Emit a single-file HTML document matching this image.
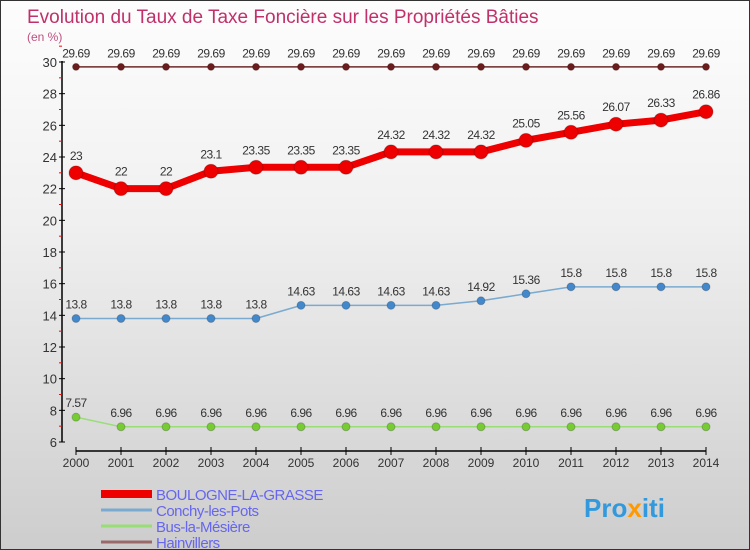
<!DOCTYPE html>
<html><head><meta charset="utf-8"><style>
body{margin:0;width:750px;height:550px;overflow:hidden;font-family:"Liberation Sans","DejaVu Sans",sans-serif}
#wrap{position:absolute;left:0;top:0;width:748px;height:548px;border:1px solid #333;background:linear-gradient(#fdfdfd,#f0f0f0 40%,#cdcdcd)}
</style></head><body>
<div id="wrap">
<svg id="chart" width="748" height="548" style="position:absolute;left:0;top:0"></svg>
</div>
<script>
const years=["2000","2001","2002","2003","2004","2005","2006","2007","2008","2009","2010","2011","2012","2013","2014"];
const boulogne=[23,22,22,23.1,23.35,23.35,23.35,24.32,24.32,24.32,25.05,25.56,26.07,26.33,26.86];
const conchy=[13.8,13.8,13.8,13.8,13.8,14.63,14.63,14.63,14.63,14.92,15.36,15.8,15.8,15.8,15.8];
const bus=[7.57,6.96,6.96,6.96,6.96,6.96,6.96,6.96,6.96,6.96,6.96,6.96,6.96,6.96,6.96];
const hain=[29.69,29.69,29.69,29.69,29.69,29.69,29.69,29.69,29.69,29.69,29.69,29.69,29.69,29.69,29.69];
const yTicks=[6,8,10,12,14,16,18,20,22,24,26,28,30];
const seriesNames=["BOULOGNE-LA-GRASSE","Conchy-les-Pots","Bus-la-Mésière","Hainvillers"];
const NS="http://www.w3.org/2000/svg";
const svg=document.getElementById('chart');
const X=i=>75+i*45;
const Y=v=>441-(v-6)*(380/24);
function el(t,a,p){const e=document.createElementNS(NS,t);for(const k in a)e.setAttribute(k,a[k]);(p||svg).appendChild(e);return e;}
function txt(s,a){const e=el('text',a);e.textContent=s;return e;}
const title=txt("Evolution du Taux de Taxe Foncière sur les Propriétés Bâties",{x:26,y:22,'font-size':19,fill:'#c0306a'});


const unit=txt("(en %)",{x:26,y:40,'font-size':12,fill:'#c05080'});


// axes
const ya=el('line',{x1:61,y1:60,x2:61,y2:441,stroke:'#000','stroke-width':1.5});


yTicks.forEach(v=>{
  el('line',{x1:58,y1:Y(v),x2:64,y2:Y(v),stroke:'#000'});
  el('line',{x1:58,y1:Y(v+1),x2:61,y2:Y(v+1),stroke:'#f00'});
  const t=txt(String(v),{x:56,y:Y(v)+5,'font-size':13,fill:'#333','text-anchor':'end'});
  
  
});
const xa=el('line',{x1:75,y1:450,x2:705,y2:450,stroke:'#000','stroke-width':1.5});


years.forEach((y,i)=>{
  el('line',{x1:X(i),y1:446,x2:X(i),y2:454,stroke:'#000'});
  const t=txt(y,{x:X(i),y:466,'font-size':12,fill:'#333','text-anchor':'middle'});
  
  
});
function series(data,color,lw,r,dotColor,name){
  const pts=data.map((v,i)=>X(i)+','+Y(v)).join(' ');
  const l=el('polyline',{points:pts,fill:'none',stroke:color,'stroke-width':lw,'stroke-linejoin':'round'});
  
  
  data.forEach((v,i)=>{
    const c=el('circle',{cx:X(i),cy:Y(v),r:r,fill:dotColor,stroke:'#0003'});
    
    
    const t=txt(String(v),{x:X(i),y:Y(v)-r-6,'font-size':12,fill:'#333','text-anchor':'middle','letter-spacing':'-0.5'});
    
    
  });
}
series(hain,'#6b2a2a',1.5,3.5,'#6b1c1c','hainvillers');
series(bus,'#99dd77',1.5,4,'#77cc33','bus-la-mesiere');
series(conchy,'#7aaad0',1.5,4,'#4488cc','conchy-les-pots');
series(boulogne,'#ee0000',7,7,'#ee0000','boulogne-la-grasse');
// legend
const lc=['#ee0000','#7aaad0','#99dd77','#9a6a6a'];
const lw=[8,3,3,3];
seriesNames.forEach((n,i)=>{
  const yy=493+i*16;
  const l=el('line',{x1:100,y1:yy,x2:151,y2:yy,stroke:lc[i],'stroke-width':lw[i]});
  
  
  const t=txt(n,{x:155,y:yy+6,'font-size':15,fill:'#6666ee','letter-spacing':'-0.5'});
  
  
});
const logo=txt("Pro",{x:583,y:516,'font-size':26,'font-weight':'bold',fill:'#3399dd'});


const t2=el('tspan',{fill:'#ff9900'},logo);t2.textContent="x";
const t3=el('tspan',{fill:'#3399dd'},logo);t3.textContent="iti";
</script>
</body></html>
